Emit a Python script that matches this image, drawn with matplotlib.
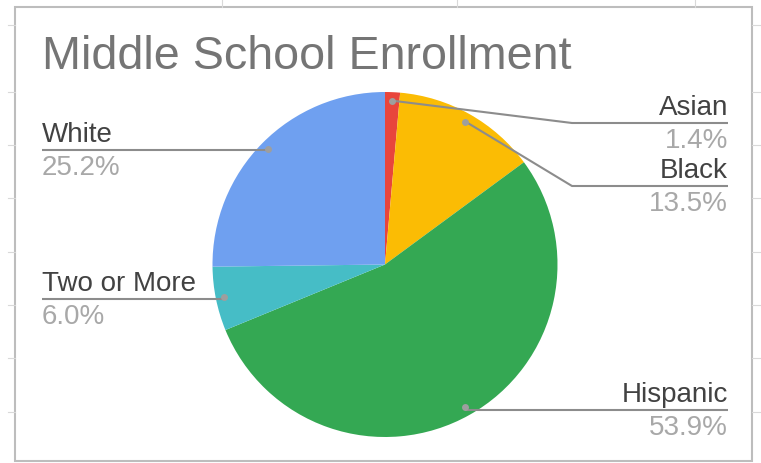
import numpy as np
import matplotlib
matplotlib.use("Agg")
import matplotlib.pyplot as plt
from matplotlib.patches import Rectangle

# chart data
groups = ["Asian", "Black", "Hispanic", "Two or More", "White"]
shares = [1.4, 13.5, 53.9, 6.0, 25.2]
colors = ["#e8453c", "#fbbc04", "#34a853", "#46bdc6", "#6fa0f0"]

W, H = 761, 463
plt.rcParams['font.family'] = ['Liberation Sans', 'DejaVu Sans']

fig = plt.figure(figsize=(W / 100, H / 100), dpi=100)
ax = fig.add_axes([0, 0, 1, 1])

# pie in pixel space (y flipped so 0 is bottom)
cx, cy, r = 385, H - 264.5, 172.5
ax.pie(shares, colors=colors, startangle=90, counterclock=False,
       center=(cx, cy), radius=r, wedgeprops=dict(linewidth=0))
ax.set_xlim(0, W)
ax.set_ylim(0, H)
ax.set_aspect('auto')
ax.axis('off')

# chart frame and spreadsheet grid ticks
ax.add_patch(Rectangle((15, H - 461), 737, 454, fill=False,
                       edgecolor="#bdbdbd", linewidth=1.5, zorder=0))
for gy in [25, 92, 145, 198, 252, 305, 358, 412]:
    ax.plot([8, 15], [H - gy, H - gy], color="#d9d9d9", lw=0.8)
    ax.plot([752, 761], [H - gy, H - gy], color="#d9d9d9", lw=0.8)
for gx in [222, 457, 695]:
    ax.plot([gx, gx], [H - 0, H - 7], color="#d9d9d9", lw=0.8)

ax.text(42, H - 69, "Middle School Enrollment", fontsize=33.6,
        color="#757575", ha='left', va='baseline')

# leader lines: dot on slice, line to label
line_col = "#8c8c8c"
fs = 20
cum = np.cumsum([0] + shares[:-1])
# label line y (px from top) and elbow x for right side labels
label_y = {"Asian": 123, "Black": 186, "Hispanic": 410, "Two or More": 299, "White": 150}
for name, s, c0 in zip(groups, shares, cum):
    mid = np.deg2rad((c0 + s / 2) * 3.6)
    dx = 164 * np.sin(mid)
    dy = 164 * np.cos(mid)
    px, py = cx + dx, cy + dy
    ly = H - label_y[name]
    if dx >= 0:
        xs_ = [px, 572, 728] if abs(py - ly) > 3 else [px, 728]
        ys_ = [py, ly, ly] if len(xs_) == 3 else [ly, ly]
        tx, ha = 728, 'right'
    else:
        xs_ = [42, px]
        ys_ = [ly, ly]
        tx, ha = 42, 'left'
    ax.plot(xs_, ys_, color=line_col, lw=1.5, solid_capstyle='butt')
    ax.plot([px], [py], 'o', color="#9e9e9e", ms=5, mec='none')
    ax.text(tx, ly + 8, name, fontsize=fs, color="#424242", ha=ha, va='baseline')
    ax.text(tx, ly - 5, f"{s:.1f}%", fontsize=fs, color="#a8a8a8", ha=ha, va='top')

fig.savefig("out.png", dpi=100)
